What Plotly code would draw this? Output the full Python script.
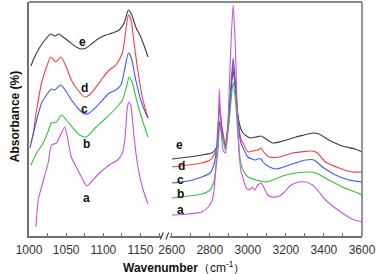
import plotly.graph_objects as go

# ---------------- data (absorbance, arbitrary offset units) ----------------
left_wn_e = [1002.7, 1005.7, 1014.7, 1023.6, 1029.3, 1034.7, 1040.4, 1045.7, 1054.7, 1063.6, 1070.3, 1076.9,
             1085.7, 1094.7, 1103.6, 1112.4, 1121.3, 1128.0, 1133.7, 1138.3, 1143.6, 1150.3, 1156.9, 1160.0]
left_abs_e = [1.70, 1.76, 1.89, 1.98, 2.02, 2.00, 2.02, 1.99, 1.94, 1.89, 1.87, 1.88,
              1.93, 1.98, 2.01, 2.03, 2.06, 2.13, 2.26, 2.21, 2.09, 1.99, 1.86, 1.79]

left_wn_d = [1002.7, 1005.7, 1010.3, 1016.9, 1023.6, 1029.3, 1036.0, 1042.7, 1050.3, 1056.9, 1065.7, 1074.7, 1081.3,
             1090.3, 1099.1, 1108.0, 1116.9, 1125.7, 1130.3, 1133.7, 1137.3, 1141.3, 1145.7, 1152.4, 1160.0]
left_abs_d = [0.93, 1.03, 1.26, 1.53, 1.69, 1.79, 1.74, 1.79, 1.69, 1.56, 1.46, 1.39, 1.41,
              1.49, 1.58, 1.66, 1.71, 1.83, 2.06, 2.21, 2.16, 1.93, 1.69, 1.39, 1.18]

left_wn_c = [1001.3, 1010.3, 1016.9, 1023.6, 1030.3, 1034.7, 1042.7, 1050.3, 1059.1, 1068.0, 1074.7, 1081.3,
             1090.3, 1099.1, 1108.0, 1116.9, 1123.6, 1129.3, 1133.7, 1137.7, 1143.6, 1150.3, 1156.9, 1160.0]
left_abs_c = [0.88, 1.16, 1.33, 1.41, 1.47, 1.46, 1.51, 1.44, 1.34, 1.26, 1.22, 1.23,
              1.29, 1.36, 1.43, 1.46, 1.51, 1.69, 1.83, 1.78, 1.56, 1.36, 1.23, 1.18]

left_wn_b = [1002.7, 1010.3, 1019.1, 1025.3, 1030.3, 1036.9, 1043.6, 1050.3, 1059.1, 1068.0, 1076.9,
             1090.3, 1103.6, 1114.7, 1125.7, 1131.1, 1134.7, 1139.1, 1145.7, 1152.4, 1160.0]
left_abs_b = [0.71, 0.83, 0.93, 1.04, 1.13, 1.14, 1.21, 1.16, 1.08, 1.01, 0.99,
              1.09, 1.18, 1.26, 1.36, 1.49, 1.59, 1.53, 1.33, 1.16, 0.99]

left_wn_a = [1009.3, 1012.4, 1016.9, 1025.7, 1030.3, 1036.9, 1043.6, 1048.0, 1052.4, 1056.9, 1065.7, 1074.7, 1078.3,
             1083.6, 1094.7, 1108.0, 1119.1, 1125.7, 1129.3, 1132.4, 1134.7, 1137.3, 1141.3, 1145.7, 1152.4, 1160.0]
left_abs_a = [0.09, 0.36, 0.49, 0.73, 0.91, 0.93, 1.03, 1.09, 0.96, 0.79, 0.66, 0.53, 0.50,
              0.54, 0.63, 0.71, 0.76, 0.83, 0.99, 1.29, 1.34, 1.29, 0.99, 0.73, 0.49, 0.32]

right_wn_e = [2601.6, 2688.5, 2757.8, 2809.9, 2827.6, 2841.1, 2850, 2865, 2882, 2900, 2912, 2923, 2935, 2948, 2962,
              2975, 3010, 3044, 3070, 3088, 3131, 3183, 3253, 3296, 3340, 3374, 3426, 3496, 3565, 3600]
right_abs_e = [0.77, 0.79, 0.81, 0.83, 0.86, 0.91, 1.14, 1.01, 0.91, 1.16, 1.46, 1.66, 1.46, 1.21, 1.08,
               1.03, 0.98, 0.99, 1.00, 0.98, 0.93, 0.95, 0.99, 1.01, 1.03, 1.02, 0.96, 0.90, 0.87, 0.84]

right_wn_d = [2601.6, 2688.5, 2757.8, 2801.6, 2827.6, 2841.1, 2850, 2865, 2882, 2900, 2912, 2923, 2935, 2948, 2962,
              2975, 3001, 3027, 3053, 3070, 3083, 3114, 3166, 3235, 3340, 3366, 3409, 3479, 3548, 3600]
right_abs_d = [0.69, 0.71, 0.73, 0.76, 0.83, 0.89, 1.34, 1.08, 0.94, 1.21, 1.51, 1.71, 1.48, 1.18, 0.98,
               0.93, 0.84, 0.85, 0.86, 0.88, 0.84, 0.79, 0.79, 0.83, 0.85, 0.83, 0.74, 0.68, 0.64, 0.64]

right_wn_c = [2601.6, 2688.5, 2757.8, 2801.6, 2823.9, 2835.9, 2850, 2865, 2882, 2900, 2912, 2923, 2935, 2948, 2962,
              2975, 3001, 3036, 3053, 3070, 3079, 3114, 3149, 3218, 3305, 3348, 3392, 3461, 3531, 3600]
right_abs_c = [0.53, 0.55, 0.59, 0.63, 0.73, 0.89, 1.28, 1.06, 0.88, 1.18, 1.51, 1.78, 1.51, 1.16, 0.94,
               0.88, 0.79, 0.76, 0.77, 0.77, 0.74, 0.69, 0.67, 0.71, 0.76, 0.76, 0.69, 0.61, 0.56, 0.54]

right_wn_b = [2601.6, 2688.5, 2757.8, 2801.6, 2823.9, 2835.9, 2844.8, 2852, 2865, 2882, 2900, 2912, 2923, 2935,
              2948, 2962, 2975, 3001, 3044, 3096, 3131, 3183, 3253, 3322, 3357, 3426, 3496, 3565, 3600]
right_abs_b = [0.38, 0.40, 0.42, 0.46, 0.56, 0.73, 0.89, 1.11, 1.01, 0.86, 1.11, 1.36, 1.54, 1.36,
               1.01, 0.74, 0.66, 0.59, 0.56, 0.54, 0.56, 0.60, 0.63, 0.64, 0.63, 0.56, 0.49, 0.44, 0.41]

right_wn_a = [2601.6, 2688.5, 2757.8, 2792.7, 2813.5, 2827.6, 2835.9, 2844.8, 2850, 2858, 2870, 2882, 2895, 2910,
              2923, 2935, 2945, 2955, 2965, 2975, 2992, 3010, 3023, 3036, 3053, 3070, 3083, 3105, 3131, 3166,
              3192, 3227, 3270, 3305, 3340, 3374, 3409, 3453, 3496, 3548, 3600]
right_abs_a = [0.21, 0.22, 0.24, 0.29, 0.36, 0.56, 0.83, 1.03, 1.47, 1.11, 0.86, 0.83, 1.11, 1.86,
               2.31, 1.86, 1.21, 0.81, 0.64, 0.58, 0.48, 0.46, 0.49, 0.46, 0.51, 0.53, 0.49, 0.41, 0.39, 0.40,
               0.44, 0.51, 0.54, 0.54, 0.51, 0.44, 0.36, 0.29, 0.23, 0.17, 0.14]

series_names = ["e", "d", "c", "b", "a"]
left_tick_vals = [1000, 1050, 1100, 1150]
right_tick_vals = [2600, 2800, 3000, 3200, 3400, 3600]

colors = {"e": "#3a3a3a", "d": "#ff3b3b", "c": "#3a5cff", "b": "#33c433", "a": "#cc4ee8"}

left = {"e": (left_wn_e, left_abs_e), "d": (left_wn_d, left_abs_d), "c": (left_wn_c, left_abs_c),
        "b": (left_wn_b, left_abs_b), "a": (left_wn_a, left_abs_a)}
right = {"e": (right_wn_e, right_abs_e), "d": (right_wn_d, right_abs_d), "c": (right_wn_c, right_abs_c),
         "b": (right_wn_b, right_abs_b), "a": (right_wn_a, right_abs_a)}

# ---------------- figure ----------------
W, H = 378, 274
ML, MR, MT, MB = 29, 13, 2, 38
PW, PH = W - ML - MR, H - MT - MB

def px2paper_x(px):
    return (px - ML) / PW

def py2paper_y(py):
    return (H - MB - py) / PH

fig = go.Figure()
for n in series_names:
    fig.add_trace(go.Scatter(x=left[n][0], y=left[n][1], mode="lines", xaxis="x", yaxis="y",
                             line=dict(color=colors[n], width=1.1, shape="spline", smoothing=0.6),
                             showlegend=False, hoverinfo="skip"))
    fig.add_trace(go.Scatter(x=right[n][0], y=right[n][1], mode="lines", xaxis="x2", yaxis="y",
                             line=dict(color=colors[n], width=1.1, shape="spline", smoothing=0.6),
                             showlegend=False, hoverinfo="skip"))

axis_common = dict(showgrid=False, zeroline=False, showline=True, linecolor="#707070", linewidth=1.5,
                   ticks="inside", ticklen=3, tickcolor="#707070", ticklabeloverflow="allow",
                   ticklabelstandoff=2,
                   tickfont=dict(family="Liberation Sans, Arial, sans-serif", size=12, color="#333333"))

fig.update_layout(
    width=W, height=H, margin=dict(l=ML, r=MR, t=MT, b=MB),
    paper_bgcolor="white", plot_bgcolor="white",
    xaxis=dict(domain=[0, px2paper_x(162)], range=[1000, 1177.3], tickvals=left_tick_vals,
               minor=dict(dtick=25, ticks="inside", ticklen=3, tickcolor="#707070"), **axis_common),
    xaxis2=dict(domain=[px2paper_x(171), 1], range=[2589.6, 3600], tickvals=right_tick_vals,
                minor=dict(dtick=100, ticks="inside", ticklen=3, tickcolor="#707070"),
                anchor="y", **axis_common),
    yaxis=dict(range=[0, 2.34], showticklabels=False, showgrid=False, zeroline=False,
               showline=True, linecolor="#707070", linewidth=1.5, ticks=""),
)

# frame: top and right borders, axis break marks
fig.add_shape(type="line", xref="paper", yref="paper", x0=0, x1=1, y0=1, y1=1,
              line=dict(color="#606060", width=1.5))
fig.add_shape(type="line", xref="paper", yref="paper", x0=1, x1=1, y0=0, y1=1,
              line=dict(color="#707070", width=1.5))
for bx in (163, 168.5):
    fig.add_shape(type="line", xref="paper", yref="paper",
                  x0=px2paper_x(bx - 1.5), x1=px2paper_x(bx + 1.5),
                  y0=py2paper_y(239.5), y1=py2paper_y(232.5),
                  line=dict(color="#404040", width=1.2))

lab_font = dict(family="Liberation Sans, Arial, sans-serif", size=12, color="#111111")
# series labels (data coords)
left_label_pos = {"e": (1072, 1.94), "d": (1075, 1.48), "c": (1075, 1.27), "b": (1078, 0.92), "a": (1078, 0.38)}
right_label_pos = {"e": (2642, 0.91), "d": (2650, 0.70), "c": (2645, 0.56), "b": (2645, 0.42), "a": (2645, 0.26)}
for n in series_names:
    fig.add_annotation(x=left_label_pos[n][0], y=left_label_pos[n][1], xref="x", yref="y",
                       text="<b>%s</b>" % n, showarrow=False, font=lab_font,
                       xanchor="center", yanchor="middle")
    fig.add_annotation(x=right_label_pos[n][0], y=right_label_pos[n][1], xref="x2", yref="y",
                       text="<b>%s</b>" % n, showarrow=False, font=lab_font,
                       xanchor="center", yanchor="middle")

# axis titles
fig.add_annotation(x=px2paper_x(185), y=py2paper_y(267), xref="paper", yref="paper",
                   text="<b>Wavenumber</b>（cm<sup>-1</sup>）", showarrow=False,
                   xanchor="center", yanchor="middle",
                   font=dict(family="Liberation Sans, Arial, sans-serif", size=12, color="#111111"))
fig.add_annotation(x=px2paper_x(15), y=py2paper_y(117), xref="paper", yref="paper",
                   text="<b>Absorbance (%)</b>", showarrow=False, textangle=-90,
                   xanchor="center", yanchor="middle",
                   font=dict(family="Liberation Sans, Arial, sans-serif", size=12, color="#111111"))

fig.write_html("out.html", post_script="document.body.style.margin='0';",
               config={"displayModeBar": False})
